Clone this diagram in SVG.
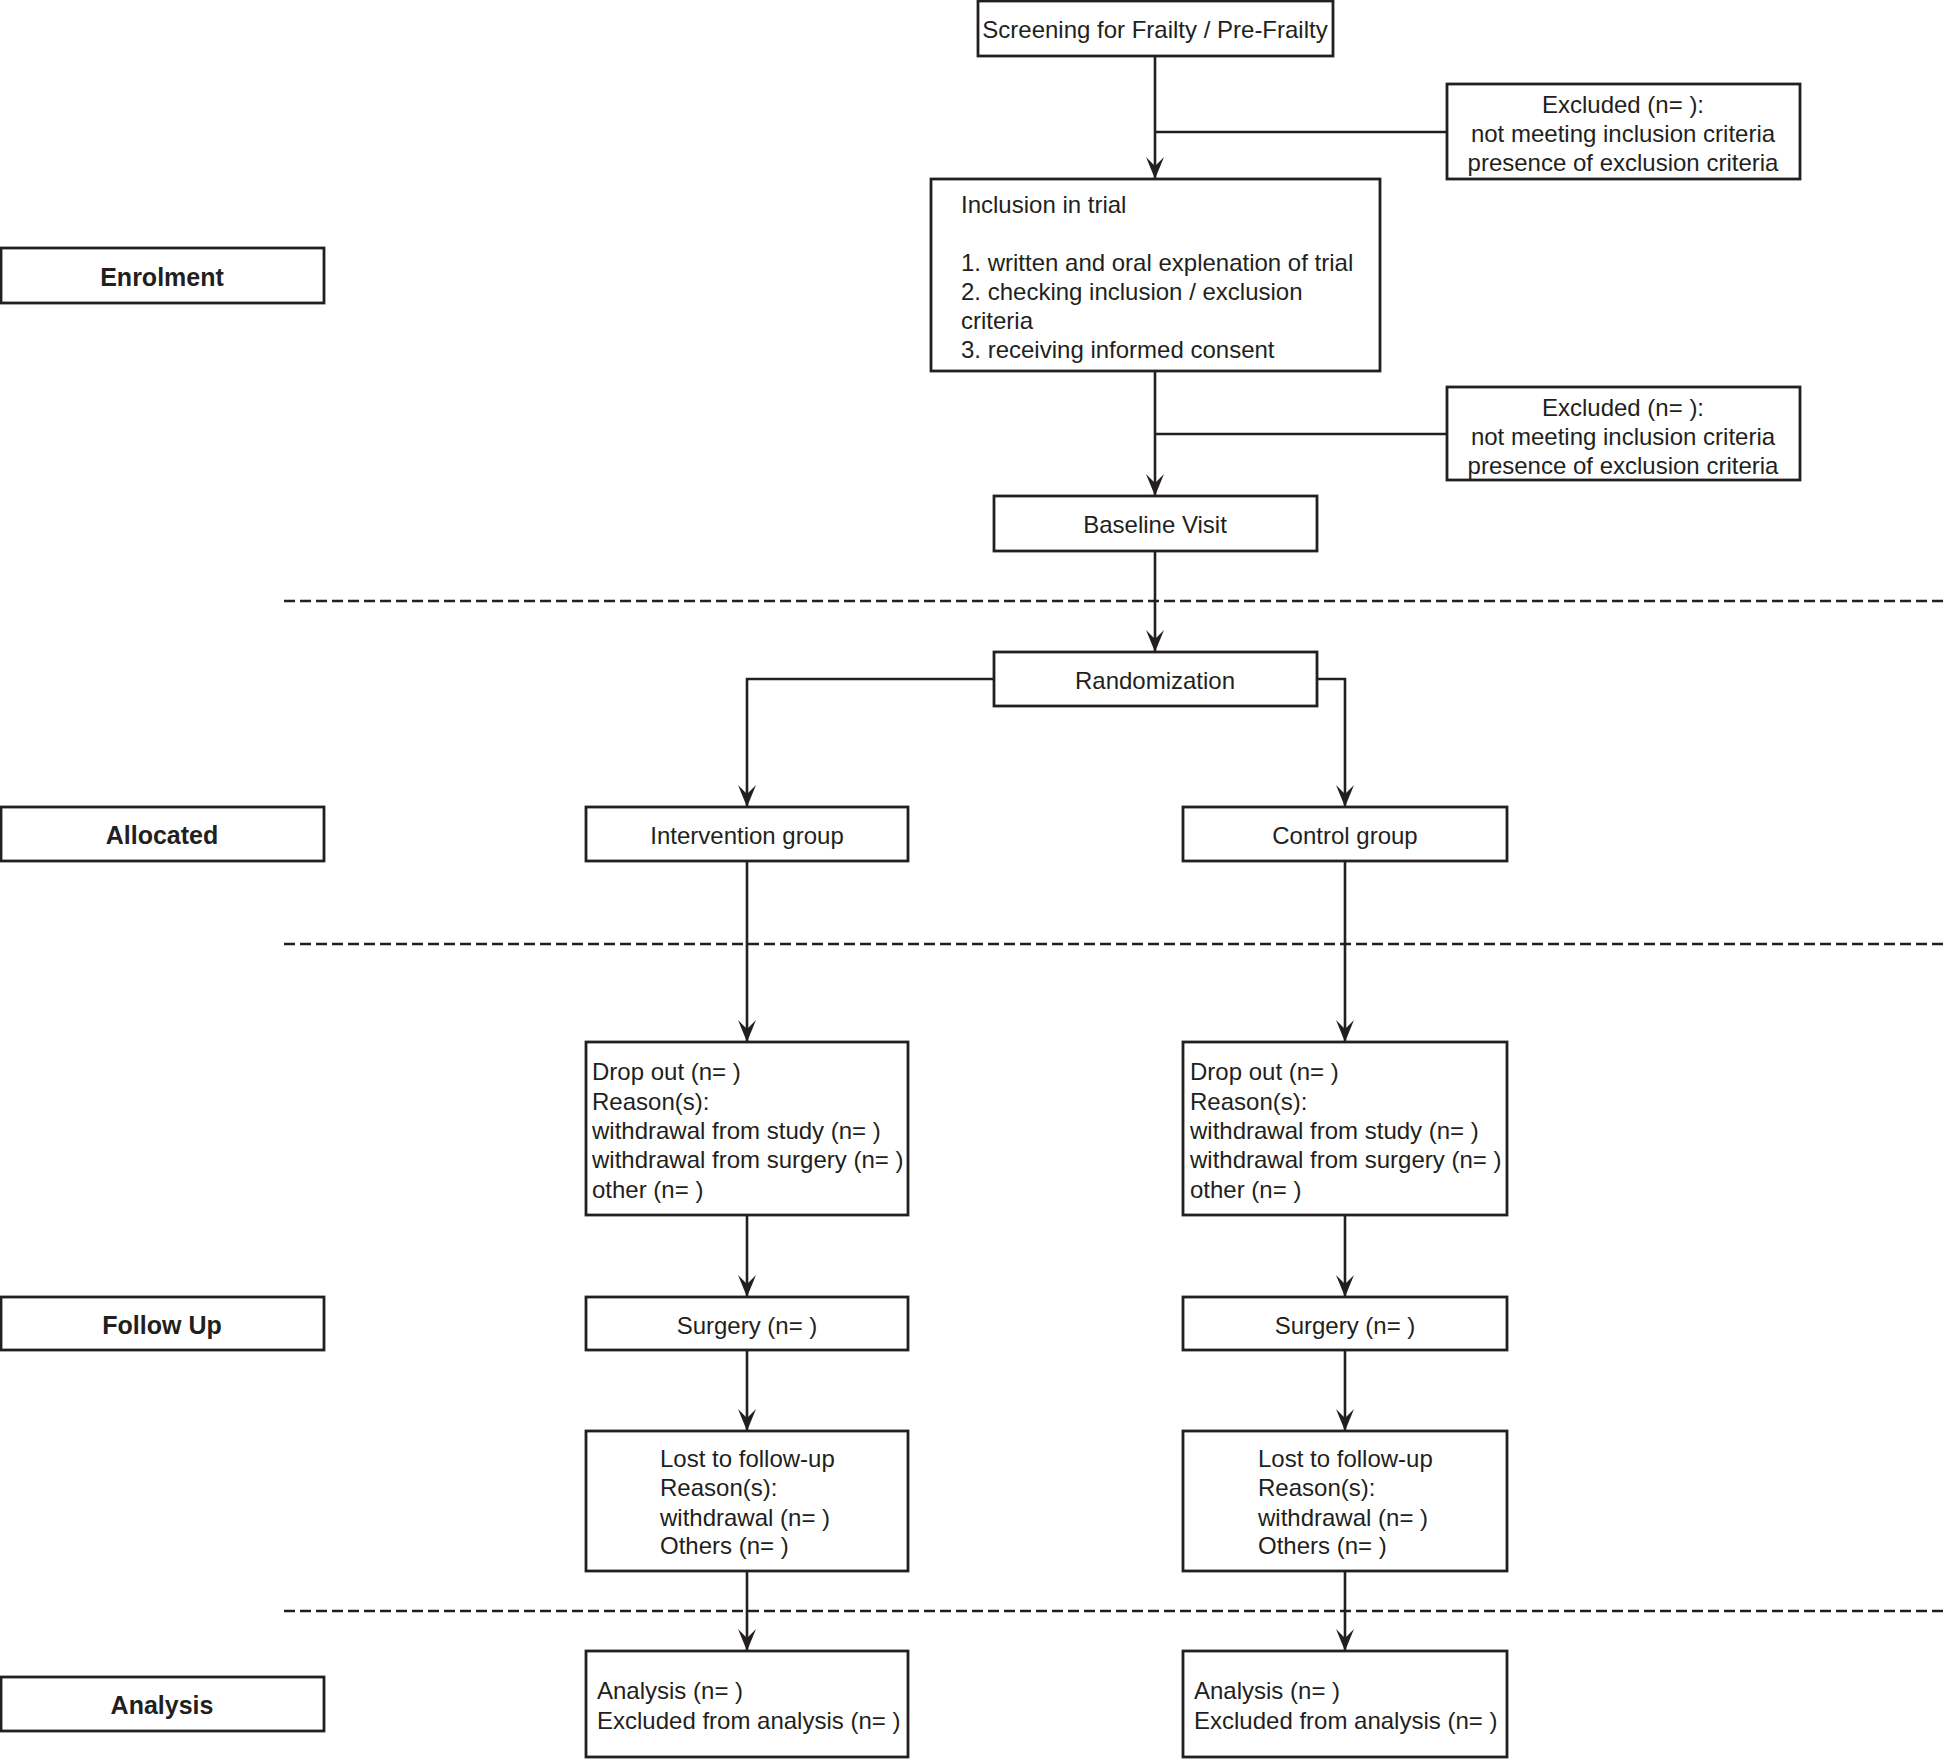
<svg xmlns="http://www.w3.org/2000/svg" width="1946" height="1759" viewBox="0 0 1946 1759">
<style>
.box{fill:#fff;stroke:#231f20;stroke-width:2.8}
.t{font-family:"Liberation Sans",Arial,sans-serif;font-size:24px;fill:#231f20}
.c{text-anchor:middle}
.b{font-weight:bold;font-size:25px}
.ln{fill:none;stroke:#231f20;stroke-width:2.6}
.dash{fill:none;stroke:#231f20;stroke-width:2.6;stroke-dasharray:11 5}
</style>
<defs>
<marker id="ah" viewBox="0 0 22 20" refX="22" refY="10" markerWidth="22" markerHeight="20" markerUnits="userSpaceOnUse" orient="auto">
<path d="M0,1 L22,10 L0,19 L9,10 Z" fill="#231f20"/>
</marker>
</defs>
<rect width="1946" height="1759" fill="#fff"/>
<g id="separators">
<line class="dash" x1="284" y1="601" x2="1946" y2="601"/>
<line class="dash" x1="284" y1="944" x2="1946" y2="944"/>
<line class="dash" x1="284" y1="1611" x2="1946" y2="1611"/>
</g>
<g id="connectors">
<line class="ln" x1="1155" y1="56" x2="1155" y2="179" marker-end="url(#ah)"/>
<line class="ln" x1="1155" y1="132" x2="1447" y2="132"/>
<line class="ln" x1="1155" y1="371" x2="1155" y2="496" marker-end="url(#ah)"/>
<line class="ln" x1="1155" y1="434" x2="1447" y2="434"/>
<line class="ln" x1="1155" y1="551" x2="1155" y2="652" marker-end="url(#ah)"/>
<polyline class="ln" points="994,679 747,679 747,807" marker-end="url(#ah)"/>
<polyline class="ln" points="1317,679 1345,679 1345,807" marker-end="url(#ah)"/>
<line class="ln" x1="747" y1="861" x2="747" y2="1042" marker-end="url(#ah)"/>
<line class="ln" x1="1345" y1="861" x2="1345" y2="1042" marker-end="url(#ah)"/>
<line class="ln" x1="747" y1="1215" x2="747" y2="1297" marker-end="url(#ah)"/>
<line class="ln" x1="1345" y1="1215" x2="1345" y2="1297" marker-end="url(#ah)"/>
<line class="ln" x1="747" y1="1350" x2="747" y2="1431" marker-end="url(#ah)"/>
<line class="ln" x1="1345" y1="1350" x2="1345" y2="1431" marker-end="url(#ah)"/>
<line class="ln" x1="747" y1="1571" x2="747" y2="1651" marker-end="url(#ah)"/>
<line class="ln" x1="1345" y1="1571" x2="1345" y2="1651" marker-end="url(#ah)"/>
</g>
<g id="label-enrolment"><rect class="box" x="1" y="248" width="323" height="55"/><text class="t c b" x="162" y="286">Enrolment</text></g>
<g id="label-allocated"><rect class="box" x="1" y="807" width="323" height="54"/><text class="t c b" x="162" y="844">Allocated</text></g>
<g id="label-followup"><rect class="box" x="1" y="1297" width="323" height="53"/><text class="t c b" x="162" y="1334">Follow Up</text></g>
<g id="label-analysis"><rect class="box" x="1" y="1677" width="323" height="54"/><text class="t c b" x="162" y="1714">Analysis</text></g>
<g id="screening"><rect class="box" x="978" y="1" width="355" height="55"/><text class="t c" x="1155" y="38">Screening for Frailty / Pre-Frailty</text></g>
<g id="excluded1"><rect class="box" x="1447" y="84" width="353" height="95"/>
<text class="t c" x="1623" y="113">Excluded (n= ):</text>
<text class="t c" x="1623" y="142">not meeting inclusion criteria</text>
<text class="t c" x="1623" y="171">presence of exclusion criteria</text></g>
<g id="inclusion"><rect class="box" x="931" y="179" width="449" height="192"/>
<text class="t" x="961" y="213">Inclusion in trial</text>
<text class="t" x="961" y="271">1. written and oral explenation of trial</text>
<text class="t" x="961" y="300">2. checking inclusion / exclusion</text>
<text class="t" x="961" y="329">criteria</text>
<text class="t" x="961" y="358">3. receiving informed consent</text></g>
<g id="excluded2"><rect class="box" x="1447" y="387" width="353" height="93"/>
<text class="t c" x="1623" y="416">Excluded (n= ):</text>
<text class="t c" x="1623" y="445">not meeting inclusion criteria</text>
<text class="t c" x="1623" y="474">presence of exclusion criteria</text></g>
<g id="baseline"><rect class="box" x="994" y="496" width="323" height="55"/><text class="t c" x="1155" y="533">Baseline Visit</text></g>
<g id="randomization"><rect class="box" x="994" y="652" width="323" height="54"/><text class="t c" x="1155" y="689">Randomization</text></g>
<g id="intervention"><rect class="box" x="586" y="807" width="322" height="54"/><text class="t c" x="747" y="844">Intervention group</text></g>
<g id="control"><rect class="box" x="1183" y="807" width="324" height="54"/><text class="t c" x="1345" y="844">Control group</text></g>
<g id="dropout-int"><rect class="box" x="586" y="1042" width="322" height="173"/>
<text class="t" x="592" y="1080">Drop out (n= )</text>
<text class="t" x="592" y="1110">Reason(s):</text>
<text class="t" x="592" y="1139">withdrawal from study (n= )</text>
<text class="t" x="592" y="1168">withdrawal from surgery (n= )</text>
<text class="t" x="592" y="1198">other (n= )</text></g>
<g id="dropout-ctrl"><rect class="box" x="1183" y="1042" width="324" height="173"/>
<text class="t" x="1190" y="1080">Drop out (n= )</text>
<text class="t" x="1190" y="1110">Reason(s):</text>
<text class="t" x="1190" y="1139">withdrawal from study (n= )</text>
<text class="t" x="1190" y="1168">withdrawal from surgery (n= )</text>
<text class="t" x="1190" y="1198">other (n= )</text></g>
<g id="surgery-int"><rect class="box" x="586" y="1297" width="322" height="53"/><text class="t c" x="747" y="1334">Surgery (n= )</text></g>
<g id="surgery-ctrl"><rect class="box" x="1183" y="1297" width="324" height="53"/><text class="t c" x="1345" y="1334">Surgery (n= )</text></g>
<g id="lost-int"><rect class="box" x="586" y="1431" width="322" height="140"/>
<text class="t" x="660" y="1467">Lost to follow-up</text>
<text class="t" x="660" y="1496">Reason(s):</text>
<text class="t" x="660" y="1526">withdrawal (n= )</text>
<text class="t" x="660" y="1554">Others (n= )</text></g>
<g id="lost-ctrl"><rect class="box" x="1183" y="1431" width="324" height="140"/>
<text class="t" x="1258" y="1467">Lost to follow-up</text>
<text class="t" x="1258" y="1496">Reason(s):</text>
<text class="t" x="1258" y="1526">withdrawal (n= )</text>
<text class="t" x="1258" y="1554">Others (n= )</text></g>
<g id="analysis-int"><rect class="box" x="586" y="1651" width="322" height="106"/>
<text class="t" x="597" y="1699">Analysis (n= )</text>
<text class="t" x="597" y="1729">Excluded from analysis (n= )</text></g>
<g id="analysis-ctrl"><rect class="box" x="1183" y="1651" width="324" height="106"/>
<text class="t" x="1194" y="1699">Analysis (n= )</text>
<text class="t" x="1194" y="1729">Excluded from analysis (n= )</text></g>
</svg>
